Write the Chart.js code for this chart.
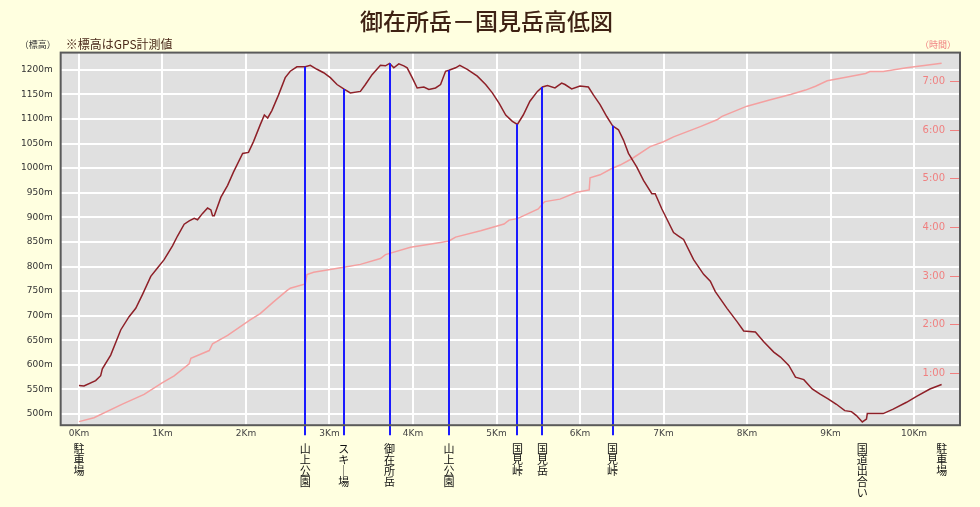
<!DOCTYPE html>
<html lang="ja">
<head>
<meta charset="utf-8">
<title>御在所岳－国見岳高低図</title>
<script src="https://cdn.jsdelivr.net/npm/chart.js@4/dist/chart.umd.min.js"></script>
<style>
html,body{margin:0;padding:0;background:#ffffe0;}
#wrap{width:980px;height:507px;position:relative;}
</style>
</head>
<body>
<div id="wrap"><canvas id="grafico"></canvas></div>
<script>
// 標高 (距離km, m)
const distElev = [0.00,0.06,0.20,0.26,0.28,0.38,0.50,0.60,0.68,0.76,0.86,0.94,1.02,1.12,1.18,1.26,1.32,1.38,1.42,1.48,1.54,1.58,1.60,1.62,1.70,1.78,1.85,1.96,2.03,2.09,2.17,2.22,2.26,2.31,2.39,2.47,2.53,2.61,2.71,2.77,2.85,2.93,3.01,3.09,3.17,3.25,3.37,3.43,3.51,3.61,3.67,3.72,3.77,3.83,3.89,3.93,3.99,4.05,4.13,4.19,4.27,4.33,4.39,4.43,4.51,4.56,4.65,4.77,4.87,4.95,5.03,5.11,5.19,5.25,5.32,5.40,5.49,5.55,5.61,5.70,5.78,5.82,5.90,6.00,6.10,6.16,6.24,6.32,6.39,6.46,6.52,6.58,6.68,6.76,6.86,6.90,6.98,7.12,7.18,7.24,7.36,7.48,7.56,7.62,7.76,7.88,7.96,8.10,8.20,8.32,8.40,8.50,8.58,8.68,8.78,8.87,8.97,9.07,9.17,9.25,9.31,9.38,9.43,9.44,9.63,9.75,9.91,10.03,10.19,10.33];
const elevation = [558,557,568,578,592,620,671,698,715,743,780,797,814,842,862,886,893,898,895,908,919,915,903,903,941,965,992,1030,1032,1054,1088,1108,1102,1117,1149,1184,1197,1206,1206,1209,1201,1194,1184,1170,1161,1153,1156,1170,1190,1209,1208,1213,1204,1212,1208,1204,1184,1163,1165,1160,1163,1170,1197,1199,1204,1209,1201,1187,1170,1153,1132,1108,1095,1089,1108,1136,1156,1165,1168,1163,1173,1170,1161,1167,1165,1149,1129,1105,1086,1078,1057,1030,1002,975,948,948,917,869,862,855,814,784,770,749,715,688,669,667,647,626,616,599,575,570,551,541,531,520,507,505,497,484,490,501,501,510,524,536,551,560];

// 時間 (距離km, 時間)
const distTime = [0.00,0.18,0.52,0.78,1.00,1.14,1.32,1.34,1.56,1.60,1.78,2.05,2.17,2.33,2.49,2.53,2.71,2.73,2.81,3.17,3.37,3.61,3.67,3.97,4.33,4.43,4.51,4.81,5.09,5.15,5.25,5.50,5.56,5.58,5.76,5.96,6.11,6.12,6.24,6.38,6.48,6.62,6.84,7.00,7.12,7.44,7.64,7.70,8.00,8.28,8.52,8.70,8.82,8.96,9.20,9.42,9.47,9.63,9.91,10.33];
const hours = [0.00,0.08,0.36,0.56,0.80,0.94,1.19,1.30,1.46,1.60,1.77,2.09,2.22,2.46,2.69,2.74,2.83,3.02,3.07,3.17,3.23,3.35,3.43,3.58,3.68,3.71,3.79,3.92,4.06,4.14,4.17,4.37,4.49,4.52,4.57,4.71,4.76,5.01,5.07,5.20,5.27,5.40,5.65,5.75,5.85,6.06,6.20,6.27,6.48,6.61,6.72,6.81,6.89,7.00,7.08,7.15,7.19,7.19,7.27,7.36];

// 地点
const spotNames = ["駐車場","山上公園","スキー場","御在所岳","山上公園","国見峠","国見岳","国見峠","国道出合い","駐車場"];
const spotKm = [0.00,2.71,3.17,3.72,4.43,5.25,5.55,6.39,9.38,10.33];
const spotLine = [false,true,true,true,true,true,true,true,false,false];

// 目盛
const kmTicks = [0,1,2,3,4,5,6,7,8,9,10];
const elevTicks = [500,550,600,650,700,750,800,850,900,950,1000,1050,1100,1150,1200];
const hourTicks = [1,2,3,4,5,6,7];

const elevPoints = distElev.map((d,i)=>({x:d,y:elevation[i]}));
const timePoints = distTime.map((d,i)=>({x:d,y:hours[i]}));

function elevAt(km){
  let best = 0;
  for(let i=1;i<distElev.length;i++){
    if(Math.abs(distElev[i]-km) < Math.abs(distElev[best]-km)) best = i;
  }
  return elevation[best];
}

const fondo = {
  id:"fondo",
  beforeDraw(chart){
    const {ctx, chartArea:a} = chart;
    ctx.save();
    ctx.fillStyle = "#ffffe0";
    ctx.fillRect(0,0,chart.width,chart.height);
    ctx.fillStyle = "#e0e0e0";
    ctx.fillRect(a.left,a.top,a.right-a.left,a.bottom-a.top);
    ctx.restore();
  },
  afterDatasetsDraw(chart){
    const {ctx, chartArea:a, scales} = chart;
    ctx.save();
    ctx.strokeStyle = "#1a1aff";
    ctx.lineWidth = 2;
    for(let i=0;i<spotKm.length;i++){
      if(!spotLine[i]) continue;
      const x = Math.round(scales.x.getPixelForValue(spotKm[i]));
      const y = scales.y.getPixelForValue(elevAt(spotKm[i]));
      ctx.beginPath();
      ctx.moveTo(x,y);
      ctx.lineTo(x,a.bottom+10);
      ctx.stroke();
    }
    // 時間の目盛 (グラフ内側)
    ctx.fillStyle = "#f08080";
    ctx.strokeStyle = "#f08080";
    ctx.lineWidth = 1;
    ctx.font = "10px 'DejaVu Sans'";
    ctx.textAlign = "right";
    ctx.textBaseline = "middle";
    for(const h of hourTicks){
      const y = Math.round(scales.yt.getPixelForValue(h)) + 0.5;
      ctx.fillText(h+":00", a.right-15, y);
      ctx.beginPath();
      ctx.moveTo(a.right-10,y);
      ctx.lineTo(a.right-1,y);
      ctx.stroke();
    }
    ctx.restore();
  },
  afterDraw(chart){
    const {ctx, chartArea:a} = chart;
    ctx.save();
    ctx.strokeStyle = "#5a5a5a";
    ctx.lineWidth = 2;
    ctx.strokeRect(a.left,a.top,a.right-a.left,a.bottom-a.top);
    ctx.textBaseline = "middle";
    ctx.textAlign = "left";
    ctx.fillStyle = "#333";
    ctx.font = "9px 'Noto Sans CJK JP'";
    ctx.fillText("（標高）", a.left-41, a.top-8);
    ctx.fillStyle = "#4b2a1a";
    ctx.font = "12px 'Noto Sans CJK JP'";
    ctx.fillText("※標高はGPS計測値", a.left+5, a.top-8);
    ctx.textAlign = "right";
    ctx.fillStyle = "#f08080";
    ctx.font = "9px 'Noto Sans CJK JP'";
    ctx.fillText("（時間）", a.right-4, a.top-8);
    ctx.restore();
  }
};

const ctx = document.getElementById("grafico");

new Chart(ctx, {
  type:"line",
  data:{
    datasets:[
      {
        label:"標高",
        data:elevPoints,
        yAxisID:"y",
        borderColor:"#8e2028",
        borderWidth:1.5,
        pointRadius:0,
        fill:false
      },
      {
        label:"時間",
        data:timePoints,
        yAxisID:"yt",
        borderColor:"#f4a0a0",
        borderWidth:1.5,
        pointRadius:0,
        fill:false
      }
    ]
  },
  options:{
    responsive:true,
    maintainAspectRatio:false,
    animation:false,
    devicePixelRatio:1,
    layout:{padding:{left:13,right:20,top:0,bottom:8}},
    plugins:{
      legend:{display:false},
      tooltip:{enabled:false},
      title:{
        display:true,
        text:"御在所岳－国見岳高低図",
        color:"#3f2214",
        font:{family:"'Noto Sans CJK JP'",size:23,weight:"500"},
        padding:{top:7,bottom:18}
      }
    },
    scales:{
      x:{
        type:"linear",
        position:"bottom",
        min:-0.219,
        max:10.55,
        afterBuildTicks(axis){ axis.ticks = kmTicks.map(v=>({value:v})); },
        ticks:{
          autoSkip:false,
          maxRotation:0,
          padding:3,
          color:"#444",
          font:{family:"'DejaVu Sans'",size:9},
          callback:(v)=>v+"Km"
        },
        grid:{color:"#ffffff",lineWidth:2,drawTicks:false},
        border:{display:false}
      },
      xw:{
        type:"linear",
        position:"bottom",
        weight:1,
        min:-0.219,
        max:10.55,
        afterBuildTicks(axis){ axis.ticks = spotKm.map(v=>({value:v})); },
        ticks:{
          autoSkip:false,
          maxRotation:0,
          padding:1,
          color:"#111",
          font:{family:"'Noto Sans CJK JP'",size:11,lineHeight:1.0},
          callback:(v,i)=>spotNames[i].split("").map(c=>c==="ー"?"｜":c)
        },
        grid:{display:false,drawTicks:false},
        border:{display:false}
      },
      y:{
        type:"linear",
        position:"left",
        min:477.4,
        max:1234.9,
        afterBuildTicks(axis){ axis.ticks = elevTicks.map(v=>({value:v})); },
        ticks:{
          padding:8,
          color:"#333",
          font:{family:"'DejaVu Sans'",size:9},
          callback:(v)=>v+"m"
        },
        grid:{color:"#ffffff",lineWidth:2,drawTicks:false},
        border:{display:false}
      },
      yt:{
        type:"linear",
        position:"right",
        min:-0.073,
        max:7.58,
        afterBuildTicks(axis){ axis.ticks = hourTicks.map(v=>({value:v})); },
        ticks:{display:false},
        grid:{drawOnChartArea:false,drawTicks:false},
        border:{display:false}
      }
    }
  },
  plugins:[fondo]
});
</script>
</body>
</html>
